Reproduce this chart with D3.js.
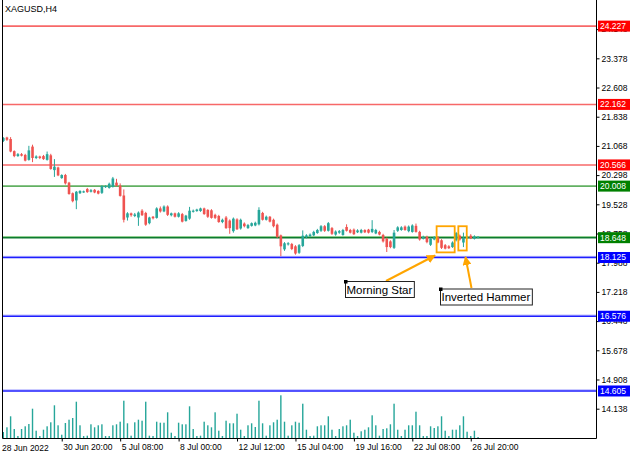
<!DOCTYPE html>
<html><head><meta charset="utf-8">
<script src="https://cdn.jsdelivr.net/npm/d3@7"></script>
<style>
html,body{margin:0;padding:0;background:#fff;}
svg{display:block;font-family:"Liberation Sans",Arial,sans-serif;}
</style></head>
<body>
<svg id="chart" width="640" height="457"></svg>
<script>
const title = "XAGUSD,H4";
const opens  = [21.20,21.29,21.25,20.93,20.80,20.85,20.83,20.70,21.05,20.75,20.79,20.80,20.70,20.82,20.43,20.50,20.22,20.30,20.10,19.82,19.63,19.82,19.84,19.93,19.86,19.91,19.88,19.83,19.98,19.96,19.99,20.10,20.02,19.76,19.18,19.29,19.22,19.18,19.36,19.30,19.03,19.20,19.17,19.42,19.34,19.47,19.24,19.29,19.20,19.27,19.09,19.15,19.33,19.35,19.35,19.42,19.38,19.37,19.25,19.22,19.06,19.18,19.10,18.82,19.13,18.89,19.02,18.90,18.96,18.97,19.00,19.30,19.12,19.20,19.12,18.99,18.71,18.34,18.47,18.48,18.42,18.25,18.43,18.66,18.69,18.71,18.77,18.83,18.95,18.83,18.90,18.73,18.78,18.72,18.93,18.85,18.86,18.79,18.78,18.85,18.86,18.80,18.76,18.80,18.72,18.62,18.55,18.38,18.83,18.85,18.94,18.82,18.80,18.96,18.80,18.62,18.67,18.46,18.60,18.66,18.58,18.45,18.42,18.40,18.58,18.70,18.52,18.63,18.70,18.62,18.65];
const highs  = [21.30,21.31,21.30,20.95,20.88,20.88,20.86,21.07,21.10,20.82,20.81,20.83,20.92,20.86,20.72,20.52,20.32,20.33,20.12,19.84,19.88,19.90,19.89,19.96,19.93,19.93,19.90,20.03,20.03,20.10,20.25,20.20,20.08,19.92,19.32,19.31,19.30,19.34,19.40,19.33,19.20,19.22,19.45,19.47,19.50,19.50,19.31,19.31,19.32,19.30,19.25,19.46,19.39,19.41,19.44,19.44,19.40,19.40,19.28,19.25,19.15,19.22,19.13,19.18,19.16,19.15,19.05,19.01,19.05,19.07,19.45,19.33,19.23,19.22,19.15,19.02,18.73,18.53,18.53,18.51,18.45,18.48,18.84,18.74,18.76,18.83,18.88,18.98,18.98,19.06,18.93,18.84,18.85,18.88,19.00,18.88,18.89,18.87,18.88,18.87,18.88,19.11,18.88,18.83,18.75,18.65,18.58,18.85,18.95,18.95,18.97,18.97,19.00,19.02,18.83,18.70,18.70,18.65,18.69,18.69,18.61,18.48,18.45,18.55,18.80,18.73,18.78,18.70,18.74,18.71,18.69];
const lows   = [21.17,21.20,20.90,20.77,20.78,20.79,20.66,20.68,20.64,20.72,20.72,20.70,20.68,20.44,20.25,20.27,20.20,20.05,19.78,19.58,19.40,19.80,19.83,19.83,19.84,19.82,19.79,19.80,19.96,19.94,19.97,20.00,19.73,19.05,19.10,19.20,19.19,18.96,19.22,18.96,19.00,19.13,19.15,19.31,19.32,19.22,19.21,19.18,19.18,19.05,19.07,19.12,19.31,19.33,19.33,19.25,19.17,19.15,19.14,19.04,19.03,18.88,18.75,18.78,18.85,18.86,18.92,18.88,18.94,18.95,18.97,19.10,19.10,19.05,18.92,18.64,18.16,18.30,18.44,18.32,18.20,18.22,18.40,18.63,18.66,18.69,18.75,18.80,18.80,18.81,18.72,18.70,18.75,18.70,18.81,18.76,18.72,18.77,18.76,18.77,18.76,18.77,18.74,18.71,18.52,18.27,18.37,18.35,18.80,18.83,18.83,18.79,18.78,18.78,18.57,18.60,18.50,18.43,18.58,18.50,18.35,18.34,18.35,18.38,18.55,18.57,18.40,18.61,18.61,18.60,18.63];
const closes = [21.28,21.23,20.92,20.80,20.85,20.81,20.68,20.95,20.75,20.79,20.75,20.72,20.85,20.46,20.52,20.29,20.30,20.08,19.80,19.61,19.86,19.88,19.87,19.85,19.90,19.84,19.81,20.01,20.01,20.07,20.21,20.02,19.75,19.12,19.29,19.24,19.26,19.31,19.24,18.99,19.18,19.16,19.42,19.34,19.47,19.25,19.29,19.20,19.29,19.07,19.23,19.36,19.36,19.39,19.42,19.27,19.20,19.17,19.17,19.06,19.12,18.90,18.90,19.15,18.87,19.12,18.95,18.98,19.03,19.04,19.38,19.12,19.20,19.07,18.95,18.67,18.42,18.50,18.50,18.35,18.23,18.45,18.70,18.71,18.73,18.80,18.85,18.95,18.83,19.03,18.75,18.81,18.82,18.85,18.83,18.78,18.74,18.84,18.85,18.79,18.78,18.88,18.85,18.73,18.55,18.40,18.40,18.78,18.92,18.92,18.85,18.94,18.97,18.80,18.60,18.67,18.53,18.62,18.66,18.52,18.38,18.36,18.37,18.52,18.77,18.60,18.65,18.67,18.63,18.68,18.67];
const volumes = [600,1070,2170,900,200,900,1170,1400,2930,730,200,830,1170,1570,3270,1270,330,1500,1830,2000,3630,1270,200,230,1370,1070,1270,1370,200,200,1270,1370,1630,3730,1470,230,1570,1830,1730,3630,230,200,1630,1530,1530,2570,530,200,1530,1370,1370,3170,900,200,230,1630,1270,1070,2570,730,200,1730,1470,1470,2430,830,200,1270,1470,1100,3730,1470,230,1270,1570,1830,4270,1630,230,1270,1630,1530,3430,830,200,230,1170,1270,1270,2170,830,200,900,1170,1270,1830,530,200,670,830,1070,2270,1270,230,900,970,1370,3430,830,200,830,1270,1270,2630,1270,200,200,1170,1000,1170,2170,730,200,830,830,1270,2170,630,200,730,100];
const timeTickIndex  = [16,32,48,64,80,96,112,128];
const timeTickLabels = ["30 Jun 20:00","5 Jul 08:00","8 Jul 00:00","12 Jul 12:00","15 Jul 04:00","19 Jul 16:00","22 Jul 08:00","26 Jul 20:00"];
const firstDateLabel = "28 Jun 2022";
const priceTicks = [14.138,14.908,15.678,16.448,17.218,17.988,18.758,19.528,20.298,21.068,21.838,22.608,23.378,24.148];
const resistanceLevels = [24.227,22.162,20.566];
const pivotLevels = [20.008,18.648];
const supportLevels = [18.125,16.576,14.605];
const patternNames = ["Morning Star","Inverted Hammer"];

const svg = d3.select("#chart");
const L = 2.5, R = 596.5, B = 438.5;
const step = 3.652;
const x = d3.scaleLinear().domain([0,1]).range([3.3, 3.3+step]);
const y = d3.scaleLinear().domain([13.365,24.916]).range([438,0]);
const yv = d3.scaleLinear().domain([0,4500]).range([438,393]);
const UP = "#26a69a", DN = "#ef5350";

const clipId = "plotclip";
svg.append("defs").append("clipPath").attr("id",clipId)
  .append("rect").attr("x",L+0.5).attr("y",0).attr("width",R-L-1).attr("height",B-0.5);

const plot = svg.append("g").attr("clip-path",`url(#${clipId})`);

// volumes
plot.append("g").selectAll("rect").data(volumes).join("rect")
  .attr("x",(d,i)=>x(i)-0.7).attr("width",1.4)
  .attr("y",d=>yv(d)).attr("height",d=>438-yv(d))
  .attr("fill",UP);

// levels
const lv = plot.append("g");
function level(v,color,w){
  lv.append("line").attr("x1",L).attr("x2",R).attr("y1",y(v)).attr("y2",y(v))
    .attr("stroke",color).attr("stroke-width",w);
}
resistanceLevels.forEach(v=>level(v,"#f76868",1.6));
level(pivotLevels[0],"#62b062",1.8);
level(pivotLevels[1]+0.03,"#8fd08f",1.2);
level(pivotLevels[1],"#0e7a30",1.6);
supportLevels.forEach(v=>{level(v+0.03,"#b0b0ff",1);level(v,"#1e1eff",1.4);});

// candles
const idx = d3.range(opens.length);
const cg = plot.append("g");
cg.selectAll("line").data(idx).join("line")
  .attr("x1",i=>x(i)).attr("x2",i=>x(i))
  .attr("y1",i=>y(highs[i])).attr("y2",i=>y(lows[i]))
  .attr("stroke",i=>closes[i]>=opens[i]?UP:DN).attr("stroke-width",1);
cg.selectAll("rect").data(idx).join("rect")
  .attr("x",i=>x(i)-1.3).attr("width",2.6)
  .attr("y",i=>y(Math.max(opens[i],closes[i])))
  .attr("height",i=>Math.max(1,Math.abs(y(opens[i])-y(closes[i]))))
  .attr("fill",i=>closes[i]>=opens[i]?UP:DN);

// frame
svg.append("path").attr("d",`M${L},0V${B}H${R}V0`).attr("fill","none").attr("stroke","#000").attr("stroke-width",1);

// right axis
const ay = svg.append("g").attr("transform",`translate(${R},0)`)
  .call(d3.axisRight(y).tickValues(priceTicks).tickSize(3).tickPadding(2).tickFormat(d3.format(".3f")));
ay.select(".domain").remove();
ay.selectAll("text").attr("font-size","8.5px").attr("fill","#000").attr("font-family","Liberation Sans, Arial");
ay.selectAll("line").attr("stroke","#000");

// level tags
function tag(v,color){
  const g = svg.append("g").attr("transform",`translate(598,${y(v)})`);
  g.append("rect").attr("x",0).attr("y",-5.5).attr("width",32).attr("height",11).attr("fill",color);
  g.append("text").attr("x",2).attr("y",0).attr("dy","0.35em").attr("fill","#fff")
    .attr("font-size","8.5px").text(d3.format(".3f")(v));
}
resistanceLevels.forEach(v=>tag(v,"#ff0000"));
pivotLevels.forEach(v=>tag(v,"#008000"));
supportLevels.forEach(v=>tag(v,"#0000ff"));

// bottom axis
const ax = svg.append("g").attr("transform",`translate(0,${B})`)
  .call(d3.axisBottom(x).tickValues(timeTickIndex).tickSize(3).tickPadding(2).tickFormat((d,i)=>timeTickLabels[i]));
ax.select(".domain").remove();
ax.selectAll("text").attr("text-anchor","start").attr("dx","1px").attr("font-size","8.5px").attr("fill","#000");
ax.selectAll("line").attr("stroke","#000");
svg.append("text").attr("x",2).attr("y",450.5).attr("font-size","8.5px").text(firstDateLabel);

// title
svg.append("text").attr("x",5).attr("y",12).attr("font-size","9px").attr("fill","#000").text(title);

// patterns
const OR = "#ffa500";
svg.append("defs").append("marker").attr("id","ah").attr("viewBox","0 0 10 10")
  .attr("refX",9).attr("refY",5).attr("markerWidth",4.5).attr("markerHeight",4.5)
  .attr("orient","auto").attr("markerUnits","strokeWidth")
  .append("path").attr("d","M0,0L10,5L0,10Z").attr("fill",OR);
const boxes = [[118.65,123.6,18.95,18.26],[124.6,126.9,18.95,18.31]];
boxes.forEach(b=>{
  svg.append("rect").attr("x",x(b[0])).attr("y",y(b[2])).attr("width",x(b[1])-x(b[0]))
    .attr("height",y(b[3])-y(b[2])).attr("fill","none").attr("stroke",OR).attr("stroke-width",1.8);
});
const labels = [[345,281,patternNames[0]],[440,288.5,patternNames[1]]];
const arrows = [[386,281,435,255.5],[471.5,288,465.5,257]];
arrows.forEach(a=>{
  svg.append("line").attr("x1",a[0]).attr("y1",a[1]).attr("x2",a[2]).attr("y2",a[3])
    .attr("stroke",OR).attr("stroke-width",2).attr("marker-end","url(#ah)");
});
labels.forEach(l=>{
  const g = svg.append("g").attr("transform",`translate(${l[0]},${l[1]})`);
  const t = g.append("text").attr("x",1.5).attr("y",12.5).attr("font-size","11.5px").attr("fill","#000").text(l[2]);
  const w = t.node().getComputedTextLength();
  g.insert("rect","text").attr("x",0.5).attr("y",0.5).attr("width",w+3).attr("height",16)
    .attr("fill","#fff").attr("stroke","#222").attr("stroke-width",1);
  g.append("rect").attr("x",-1).attr("y",-1).attr("width",3.5).attr("height",3.5).attr("fill","#000");
});
</script>
</body></html>
